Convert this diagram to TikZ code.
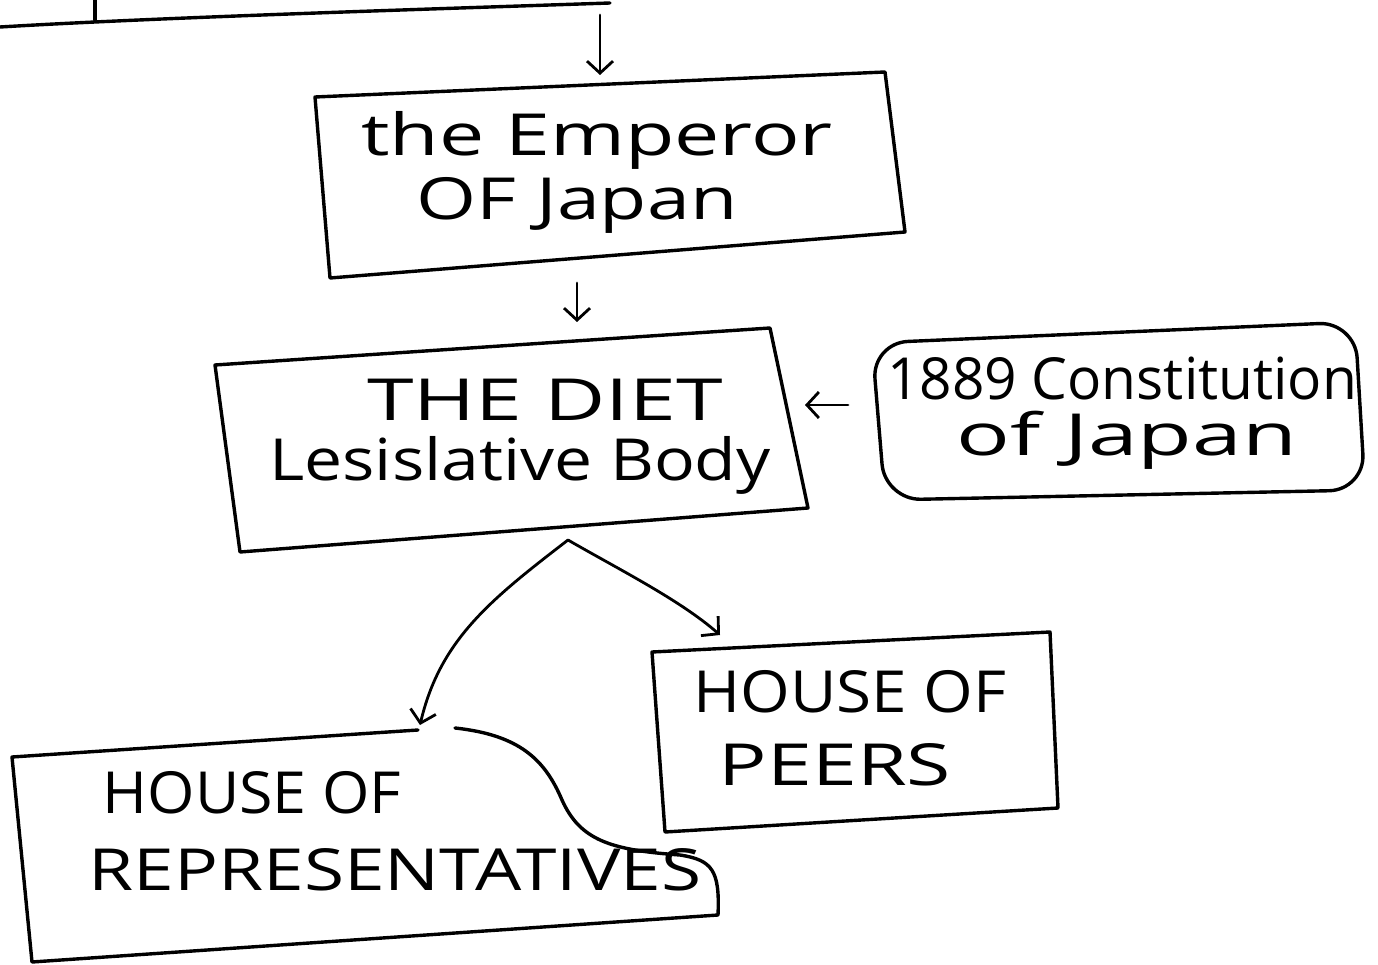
\documentclass[tikz,border=0pt]{standalone}
\usepackage{fontspec}
\usepackage{graphicx}
\setmainfont{Open Sans}
\usetikzlibrary{arrows.meta}
\newcommand{\wx}[2]{\scalebox{#1}[1]{#2}}
\begin{document}
\begin{tikzpicture}[x=1pt,y=-1pt,
  ink/.style={line width=3.4pt, line join=round, line cap=round},
  conn/.style={line width=2.8pt, line cap=round, -{Straight Barb[length=12pt,width=26pt,line width=2.8pt]}},
  lbl/.style={inner sep=0pt, font=\fontsize{58}{64}\selectfont}]
\useasboundingbox (0,0) rectangle (1378,965);
\fill[white] (0,0) rectangle (1378,965);

% fragment of the box above
\draw[ink] (0,27) .. controls (150,18) and (400,10) .. (610,3);
\draw[ink] (95,0) -- (95,20);

% Emperor box
\draw[ink] (315,97) -- (885,72) -- (905,232) -- (330,278) -- cycle;
\node[lbl] (emp1) at (597,140) {\wx{1.39}{the Emperor}};
\node[lbl] (emp2) at (577,205) {\wx{1.33}{OF Japan}};
\coordinate (top) at (600,15);
\coordinate (empT) at (600,75);
\coordinate (empB) at (577,283);

% Diet box
\draw[ink] (215,365) -- (770,328) -- (808,508) -- (240,552) -- cycle;
\node[lbl] (diet1) at (545,400) {\wx{1.45}{THE DIET}};
\node[lbl] (diet2) at (520,465) {\wx{1.17}{Lesislative Body}};
\coordinate (dietT) at (577,322);
\coordinate (dietR) at (805,405);
\coordinate (dietB) at (568,540);

% Constitution box
\draw[ink, rounded corners=36pt] (872,343) -- (1355,322) -- (1365,490) -- (885,500) -- cycle;
\node[lbl] (con1) at (1122,378) {\wx{0.98}{1889 Constitution}};
\node[lbl] (con2) at (1127,440) {\wx{1.54}{of Japan}};
\coordinate (conL) at (848,405);

% House of Peers box
\draw[ink] (652,652) -- (1050,632) -- (1058,808) -- (665,832) -- cycle;
\node[lbl] (peer1) at (850,692) {\wx{1.1}{HOUSE OF}};
\node[lbl] (peer2) at (835,765) {\wx{1.39}{PEERS}};
\coordinate (peerT) at (720,635);

% House of Representatives box
\draw[ink] (418,730) -- (12,757) -- (32,962) -- (718,915)
  .. controls (720,870) and (712,860) .. (680,855)
  .. controls (610,850) and (580,840) .. (562,800)
  .. controls (545,760) and (520,735) .. (455,728);
\node[lbl] (rep1) at (252,793) {\wx{1.05}{HOUSE OF}};
\node[lbl] (rep2) at (395,870) {\wx{1.26}{REPRESENTATIVES}};
\coordinate (repT) at (420,725);

% connectors
\draw[conn] (top) -- (empT);
\draw[conn] (empB) -- (dietT);
\draw[conn] (conL) -- (dietR);
\draw[conn] (dietB) .. controls (490,600) and (440,640) .. (repT);
\draw[conn] (dietB) .. controls (620,570) and (680,600) .. (peerT);
\end{tikzpicture}
\end{document}
